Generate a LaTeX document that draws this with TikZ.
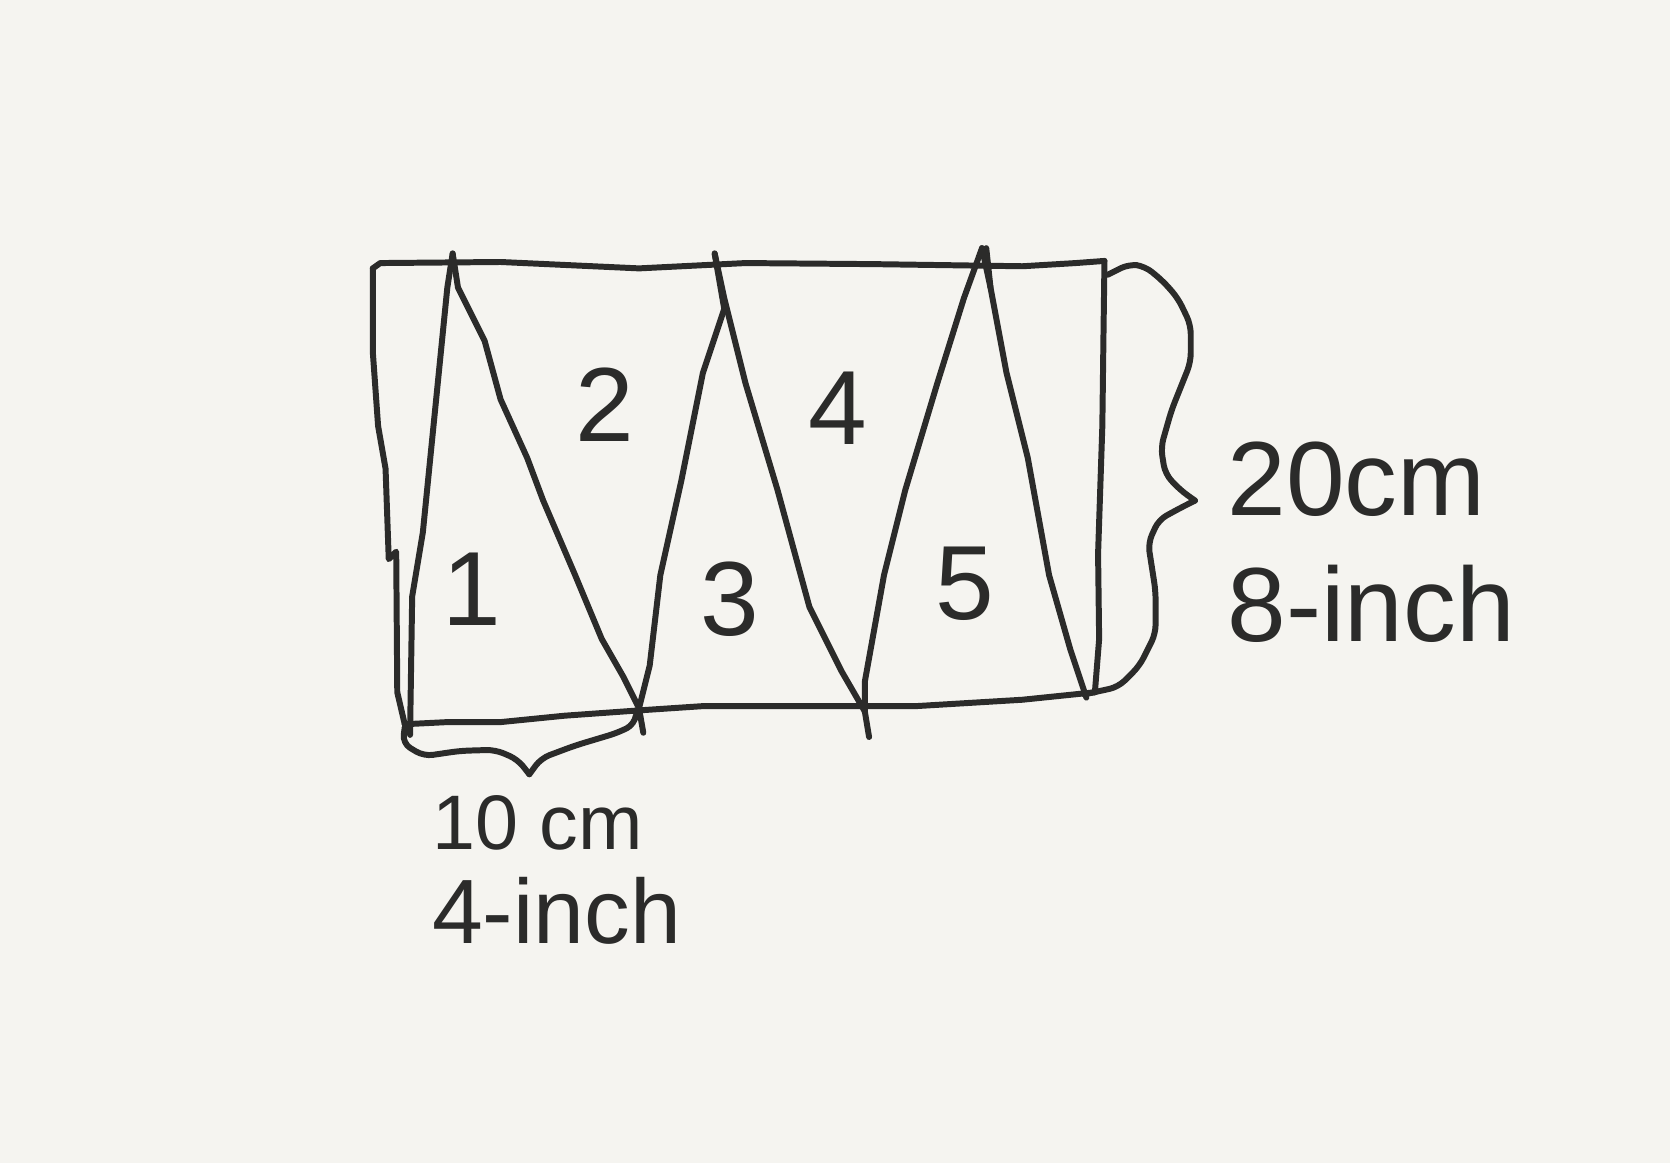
\documentclass[tikz,border=0pt]{standalone}
\usepackage{fontspec}
\setmainfont{Liberation Sans}
\definecolor{ink}{HTML}{2B2B2A}
\definecolor{paper}{HTML}{F5F4F0}
\begin{document}
\begin{tikzpicture}[x=0.01065cm,y=-0.01065cm,
  pen/.style={draw=ink,line width=1.7pt,line cap=round,line join=round},
  soft/.style={pen,rounded corners=2.5pt},
  hand/.style={text=ink,font=\fontsize{30}{32}\selectfont,inner sep=0pt},
  small/.style={text=ink,font=\fontsize{26}{28}\selectfont,inner sep=0pt}]
\fill[paper] (0,0) rectangle (1568,1092);
\useasboundingbox (0,0) rectangle (1568,1092);
% corners and vertices
\coordinate (TL) at (350,252);
\coordinate (TR) at (1037,245);
\coordinate (BR) at (1028,650);
\coordinate (BL) at (380,680);
\coordinate (A1) at (425,238);
\coordinate (A2) at (671,238);
\coordinate (A3) at (922,233);
\coordinate (B0) at (385,690);
\coordinate (B1) at (600,665);
\coordinate (B2) at (812,668);
\coordinate (B3) at (1020,655);
% rectangle (hand drawn)
\draw[pen] (TL) -- (357,247) -- (470,246) -- (600,252) -- (700,247) -- (820,248) -- (960,250) -- (1010,247) -- (TR);
\draw[pen] (TR) -- (1036,320) -- (1035,400) -- (1031,520) -- (1032,600) -- (BR);
\draw[pen] (BR) -- (960,657) -- (860,663) -- (660,663) -- (600,667) -- (530,672) -- (470,678) -- (420,678) -- (BL);
\draw[pen] (TL) -- (350,330) -- (355,400) -- (362,440) -- (365,525) -- (372,518) -- (373,650) -- (BL);
% triangles
\draw[pen] (A1) -- (420,270) -- (408,390) -- (397,500) -- (387,560) -- (B0);
\draw[pen] (A1) -- (430,270) -- (455,320) -- (470,375) -- (495,430) -- (510,470) -- (540,540) -- (565,600) -- (585,635) -- (B1);
\draw[pen] (B1) -- (604,688);
\draw[pen] (B1) -- (610,625) -- (620,540) -- (640,450) -- (660,350) -- (680,290) -- (A2);
\draw[pen] (A2) -- (680,280) -- (700,360) -- (730,460) -- (760,570) -- (790,630) -- (B2);
\draw[pen] (B2) -- (816,692);
\draw[pen] (B2) -- (812,640) -- (830,540) -- (850,460) -- (880,360) -- (905,280) -- (A3);
\draw[pen] (A3) -- (930,270) -- (945,350) -- (965,430) -- (985,540) -- (1005,610) -- (B3);
\draw[pen] (926,233) -- (930,270);
% region numbers
\node[hand] (n1) at (443,553) {1};
\node[hand] (n2) at (568,380) {2};
\node[hand] (n3) at (685,563) {3};
\node[hand] (n4) at (787,383) {4};
\node[hand] (n5) at (906,548) {5};
% right brace
\coordinate (RB1) at (1040,258);
\coordinate (RBt) at (1122,470);
\coordinate (RB2) at (1018,652);
\draw[soft] (RB1) -- (1060,248) -- (1075,250) -- (1092,264) -- (1106,280) -- (1118,305) -- (1118,340) -- (1100,385) -- (1090,420) -- (1094,445) -- (1108,460) -- (RBt);
\draw[soft] (RBt) -- (1110,476) -- (1088,488) -- (1078,510) -- (1085,555) -- (1085,595) -- (1070,625) -- (1050,645) -- (RB2);
\node[hand,anchor=west] (r1) at (1152,450) {20cm};
\node[hand,anchor=west] (r2) at (1152,567) {8-inch};
% bottom brace
\coordinate (LB1) at (380,683);
\coordinate (LBt) at (497,727);
\coordinate (LB2) at (597,672);
\draw[soft] (LB1) -- (378,698) -- (398,710) -- (432,705) -- (465,704) -- (486,713) -- (LBt);
\draw[soft] (LBt) -- (508,712) -- (540,700) -- (580,688) -- (596,680) -- (LB2);
\node[text=ink,font=\fontsize{22}{24}\selectfont,inner sep=0pt,anchor=west] (b1) at (405,773) {10 cm};
\node[small,anchor=west] (b2) at (405,855) {4-inch};
\end{tikzpicture}
\end{document}
